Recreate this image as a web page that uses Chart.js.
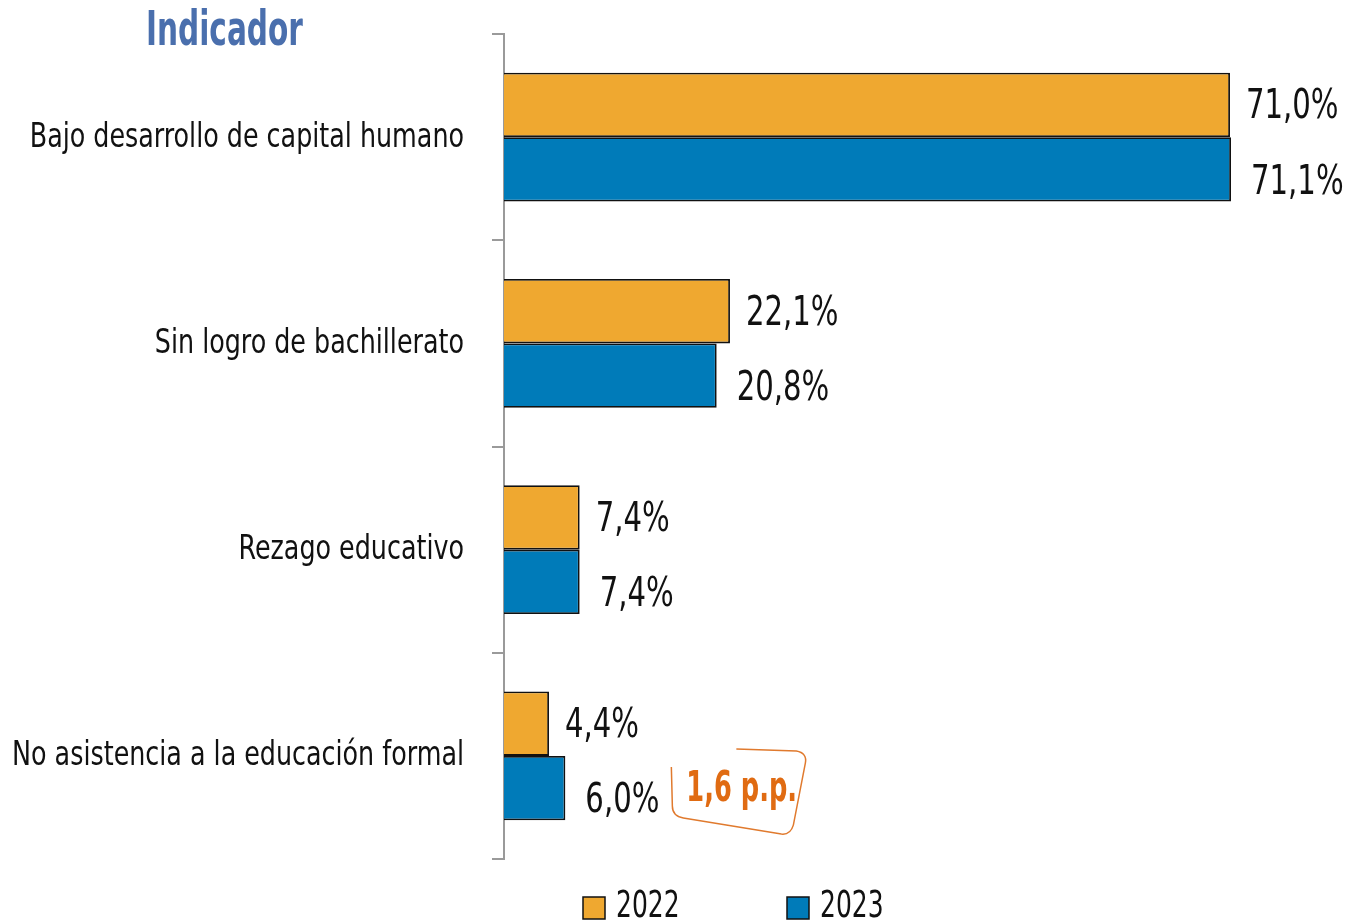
<!DOCTYPE html>
<html>
<head>
<meta charset="utf-8">
<script src="https://cdn.jsdelivr.net/npm/chart.js@4.4.1/dist/chart.umd.min.js"></script>
<style>
  html, body { margin: 0; padding: 0; background: #fff; }
  #wrap { position: relative; width: 1351px; height: 924px; }
</style>
</head>
<body>
<div id="wrap"><canvas id="chart" width="1351" height="924"></canvas></div>
<script>
// ── Data ───────────────────────────────────────────────────────────────
const categories = [
  "Bajo desarrollo de capital humano",
  "Sin logro de bachillerato",
  "Rezago educativo",
  "No asistencia a la educación formal",
];
const series2022 = [71.0, 22.1, 7.4, 4.4];
const series2023 = [71.1, 20.8, 7.4, 6.0];
const seriesNames = ["2022", "2023"];
const titleText = "Indicador";
const noteText = "1,6 p.p.";

const FONT = "'DejaVu Sans Condensed', 'Liberation Sans Narrow', sans-serif";
const ORANGE = "#efa830";
const BLUE = "#007bb9";

const fmt = v => v.toFixed(1).replace(".", ",") + "%";

// draw text squeezed horizontally, to mimic the narrow face of the original
function narrow(ctx, text, x, y, sx, align) {
  ctx.save();
  ctx.translate(x, y);
  ctx.scale(sx, 1);
  ctx.textAlign = align || "left";
  ctx.fillText(text, 0, 0);
  ctx.restore();
}

// ── Labels, title, legend, note ────────────────────────────────────────
const decorations = {
  id: "decorations",
  afterDatasetsDraw(chart) {
    const { ctx } = chart;
    const yScale = chart.scales.y;
    ctx.save();
    ctx.textBaseline = "middle";

    // category labels
    ctx.fillStyle = "#111";
    ctx.font = `33px ${FONT}`;
    categories.forEach((c, i) => {
      narrow(ctx, c, 464, yScale.getPixelForValue(i) + 1, 0.855, "right");
    });

    // value labels
    ctx.font = `40px ${FONT}`;
    chart.data.datasets.forEach((ds, di) => {
      chart.getDatasetMeta(di).data.forEach((bar, i) => {
        const dx = di === 0 ? 16 : 20;
        const dy = di === 0 ? 3 : 14;
        narrow(ctx, fmt(ds.data[i]), bar.x + dx, bar.y + dy, 0.81);
      });
    });

    // title
    ctx.fillStyle = "#4a6fad";
    ctx.font = `bold 48px ${FONT}`;
    ctx.textBaseline = "alphabetic";
    narrow(ctx, titleText, 146, 45, 0.685);

    // legend
    const legendX = [583, 787];
    ctx.font = `37px ${FONT}`;
    ctx.textBaseline = "middle";
    chart.data.datasets.forEach((ds, di) => {
      const x = legendX[di];
      ctx.fillStyle = ds.backgroundColor;
      ctx.fillRect(x, 897, 22, 22);
      ctx.strokeStyle = "#111";
      ctx.lineWidth = 1.5;
      ctx.strokeRect(x, 897, 22, 22);
      ctx.fillStyle = "#111";
      narrow(ctx, seriesNames[di], x + 33, 907, 0.75);
    });

    // difference note next to the last 2023 bar
    const last = chart.getDatasetMeta(1).data[categories.length - 1];
    const bx = last.x + 106, by = last.y;
    ctx.strokeStyle = "#e07a2e";
    ctx.lineWidth = 1.5;
    ctx.beginPath();
    ctx.moveTo(bx + 65, by - 39);
    ctx.lineTo(bx + 125, by - 37);
    ctx.quadraticCurveTo(bx + 136, by - 35, bx + 134, by - 25);
    ctx.lineTo(bx + 122, by + 37);
    ctx.quadraticCurveTo(bx + 119, by + 47, bx + 110, by + 46);
    ctx.lineTo(bx + 12, by + 30);
    ctx.quadraticCurveTo(bx + 1, by + 28, bx + 1, by + 18);
    ctx.lineTo(bx, by - 21);
    ctx.stroke();
    ctx.fillStyle = "#e06b12";
    ctx.font = `bold 42px ${FONT}`;
    narrow(ctx, noteText, bx + 15, by + 2, 0.68);
    ctx.restore();
  },
};

new Chart(document.getElementById("chart"), {
  type: "bar",
  data: {
    labels: categories,
    datasets: [
      { label: seriesNames[0], data: series2022, backgroundColor: ORANGE },
      { label: seriesNames[1], data: series2023, backgroundColor: BLUE },
    ],
  },
  options: {
    indexAxis: "y",
    responsive: false,
    animation: false,
    layout: { padding: { top: 34, bottom: 65, right: 29, left: 0 } },
    datasets: {
      bar: {
        borderColor: "#111",
        borderWidth: 1.8,
        borderSkipped: "start",
        categoryPercentage: 0.625,
        barPercentage: 1.0,
      },
    },
    plugins: {
      legend: { display: false },
      title: { display: false },
      tooltip: { enabled: false },
    },
    scales: {
      x: { display: false, min: 0, max: 80 },
      y: {
        afterFit(scale) { scale.width = 504; },
        grid: {
          offset: true,
          drawOnChartArea: false,
          drawTicks: true,
          tickLength: 12,
          color: "#9a9a9a",
          lineWidth: 2,
        },
        border: { display: true, color: "#9a9a9a", width: 2 },
        ticks: {
          color: "rgba(0,0,0,0)",
          padding: 27,
          font: { family: FONT, size: 4 },
        },
      },
    },
  },
  plugins: [decorations],
});
</script>
</body>
</html>
